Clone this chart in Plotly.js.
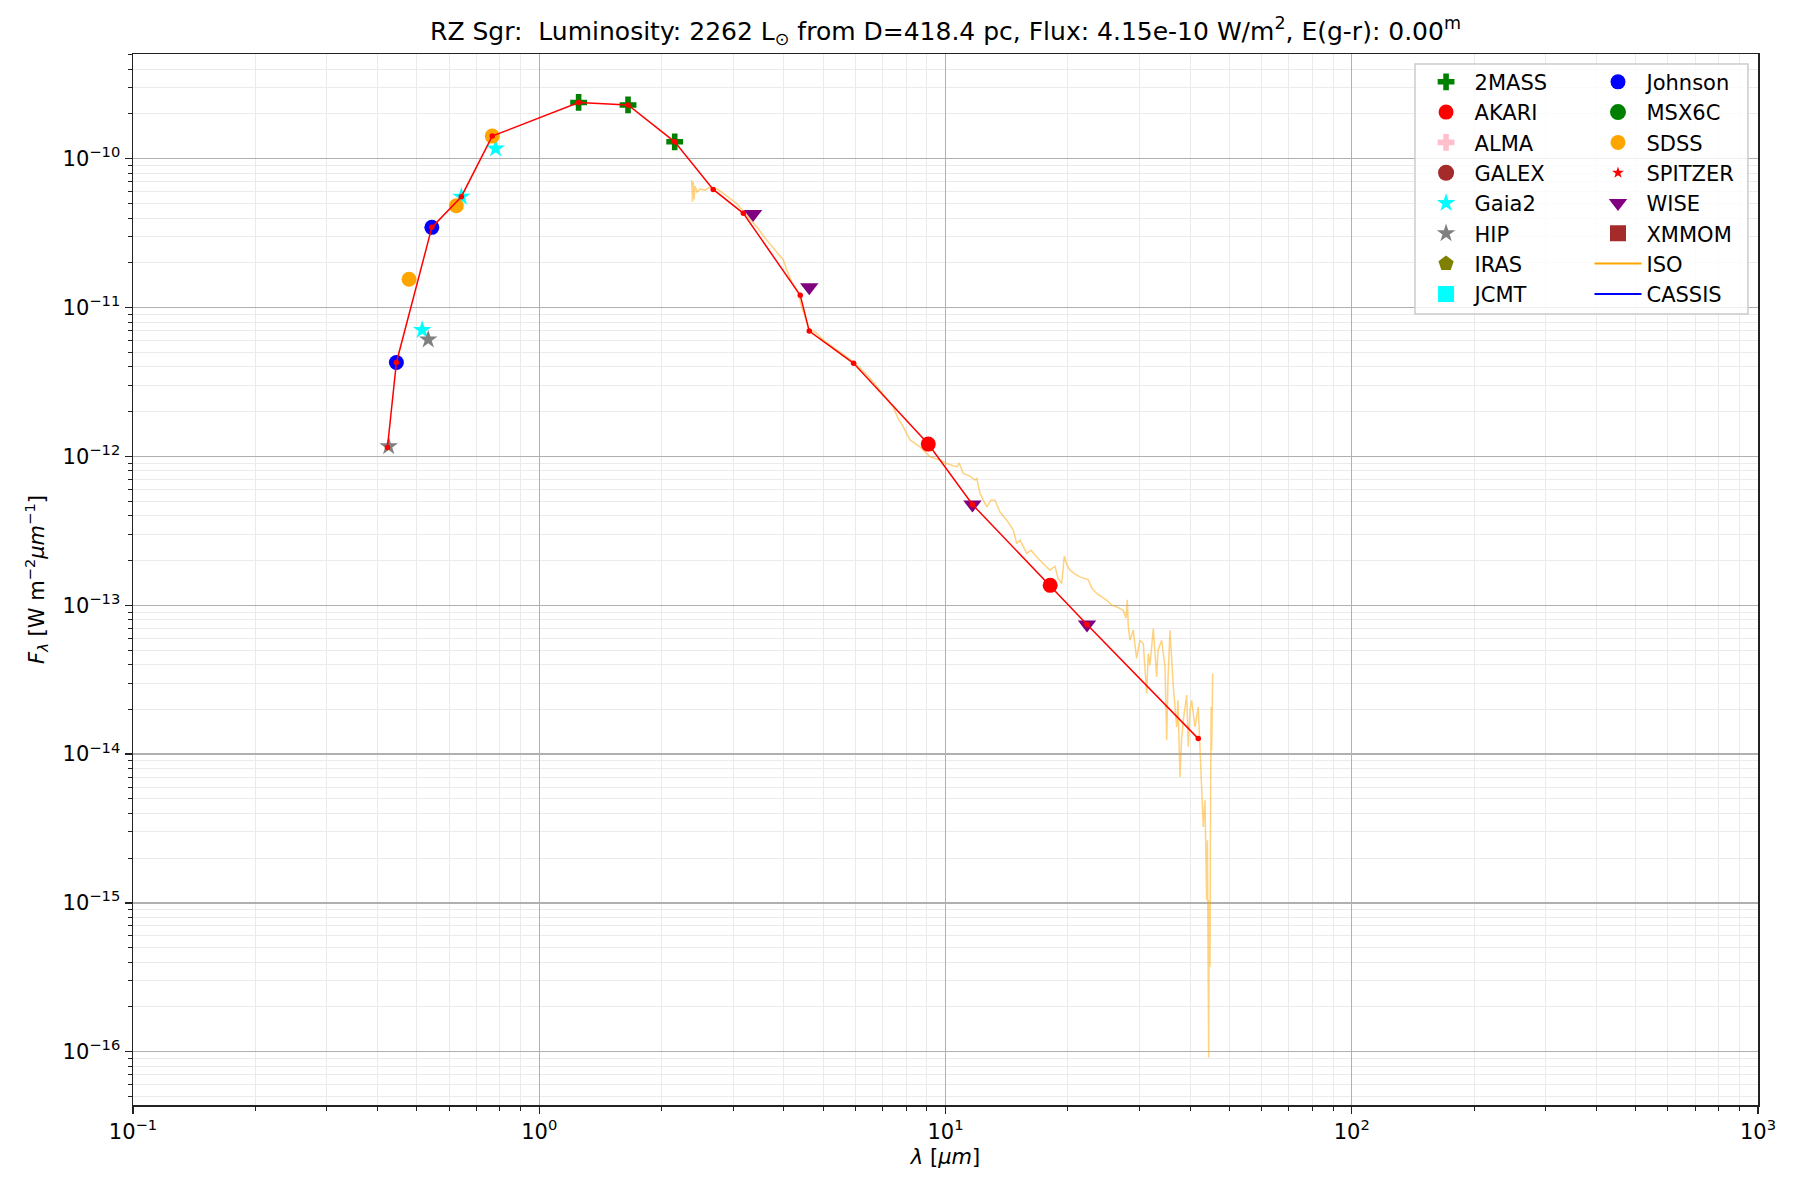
<!DOCTYPE html>
<html>
<head>
<meta charset="utf-8">
<script src="https://cdn.plot.ly/plotly-3.0.1.min.js"></script>
<style>
  html, body { margin: 0; padding: 0; background: #fff; }
  #sed { width: 1800px; height: 1200px; }
</style>
</head>
<body>
<div id="sed"></div>
<script>
// photometry (wavelength in micron, flux in W m^-2 um^-1)
const twomassWl = [1.25, 1.654, 2.155];
const twomassFlux = [2.39e-10, 2.30e-10, 1.30e-10];
const johnsonWl = [0.445, 0.544];
const johnsonFlux = [4.28e-12, 3.46e-11];
const sdssWl = [0.478, 0.625, 0.766];
const sdssFlux = [1.55e-11, 4.83e-11, 1.42e-10];
const gaiaWl = [0.515, 0.643, 0.781];
const gaiaFlux = [7.06e-12, 5.56e-11, 1.17e-10];
const hipWl = [0.426, 0.533];
const hipFlux = [1.17e-12, 6.1e-12];
const wiseWl = [3.36, 4.62, 11.65, 22.3];
const wiseFlux = [4.25e-11, 1.37e-11, 4.75e-13, 7.43e-14];
const akariWl = [9.07, 18.1];
const akariFlux = [1.21e-12, 1.36e-13];

// points joined by the red line
const sedWl = [0.423, 0.445, 0.544, 0.643, 0.766, 1.25, 1.654, 2.155, 2.68, 3.18,
  4.39, 4.62, 5.94, 9.07, 11.65, 18.1, 22.3, 41.9];
const sedFlux = [1.15e-12, 4.28e-12, 3.46e-11, 5.56e-11, 1.42e-10, 2.39e-10, 2.30e-10, 1.30e-10, 6.22e-11, 4.30e-11,
  1.21e-11, 6.95e-12, 4.22e-12, 1.21e-12, 4.75e-13, 1.36e-13, 7.43e-14, 1.27e-14];

// ISO spectrum, traced
const isoWl = [2.373, 2.384, 2.394, 2.404, 2.418, 2.446, 2.487, 2.559, 2.617, 2.682,
  2.754, 2.838, 2.948, 3.062, 3.241, 3.430, 3.630, 3.842, 3.988, 4.066,
  4.183, 4.343, 4.426, 4.511, 4.596, 4.820, 5.004, 5.499, 5.986, 6.520,
  7.098, 7.437, 7.639, 7.873, 8.177, 8.655, 9.158, 9.694, 10.07, 10.66,
  10.80, 11.06, 11.49, 11.82, 11.94, 12.16, 12.63, 12.94, 13.24, 13.62,
  14.15, 14.69, 14.97, 15.26, 15.85, 16.24, 16.77, 17.41, 18.08, 18.60,
  18.92, 19.32, 19.46, 19.61, 19.91, 20.25, 20.84, 21.43, 22.46, 22.94,
  23.56, 24.28, 24.94, 25.70, 26.39, 27.39, 27.81, 28.02, 28.18, 28.46,
  28.99, 29.27, 29.55, 30.11, 30.68, 31.27, 31.56, 31.87, 32.47, 33.10,
  33.35, 34.05, 34.70, 35.03, 35.29, 35.69, 36.37, 37.08, 37.35, 37.78,
  38.10, 38.49, 39.24, 39.59, 39.98, 40.36, 41.12, 41.90, 42.30, 42.71,
  43.10, 43.51, 43.94, 44.13, 44.34, 44.44, 44.59, 44.77, 44.95, 45.08,
  45.20, 45.34, 45.47];
const isoFlux = [7.19e-11, 5.14e-11, 6.97e-11, 5.36e-11, 6.56e-11, 5.97e-11, 6.25e-11, 6.16e-11, 6.40e-11, 6.32e-11,
  6.21e-11, 5.85e-11, 5.44e-11, 5.01e-11, 4.18e-11, 3.49e-11, 2.84e-11, 2.37e-11, 2.09e-11, 1.79e-11,
  1.49e-11, 1.25e-11, 1.01e-11, 8.67e-12, 7.24e-12, 6.71e-12, 6.05e-12, 5.02e-12, 4.24e-12, 3.36e-12,
  2.54e-12, 2.15e-12, 1.81e-12, 1.58e-12, 1.29e-12, 1.16e-12, 9.94e-13, 9.44e-13, 8.97e-13, 8.51e-13,
  9.02e-13, 7.69e-13, 7.38e-13, 6.94e-13, 7.11e-13, 5.64e-13, 4.58e-13, 5.08e-13, 5.08e-13, 4.23e-13,
  3.73e-13, 3.20e-13, 2.60e-13, 2.74e-13, 2.23e-13, 2.34e-13, 2.11e-13, 1.91e-13, 1.72e-13, 1.83e-13,
  1.52e-13, 1.40e-13, 1.72e-13, 2.14e-13, 1.86e-13, 1.72e-13, 1.62e-13, 1.55e-13, 1.48e-13, 1.30e-13,
  1.20e-13, 1.13e-13, 1.08e-13, 1.00e-13, 9.76e-14, 9.26e-14, 8.19e-14, 1.09e-13, 7.16e-14, 5.82e-14,
  6.81e-14, 5.40e-14, 4.39e-14, 5.82e-14, 5.53e-14, 2.55e-14, 4.74e-14, 3.95e-14, 6.98e-14, 3.30e-14,
  4.99e-14, 5.82e-14, 3.85e-14, 1.24e-14, 3.14e-14, 6.79e-14, 2.83e-14, 1.52e-14, 2.30e-14, 7.03e-15,
  1.24e-14, 1.69e-14, 2.49e-14, 1.12e-14, 1.97e-14, 2.30e-14, 1.52e-14, 2.07e-14, 1.01e-14, 6.68e-15,
  3.24e-15, 4.90e-15, 1.04e-15, 2.64e-15, 3.72e-16, 9.14e-17, 1.04e-15, 3.72e-16, 6.68e-15, 2.07e-14,
  1.06e-14, 2.30e-14, 3.48e-14];

const xTickVals = [0.1, 1, 10, 100, 1000];
const xTickText = ['10<sup>−1</sup>', '10<sup>0</sup>', '10<sup>1</sup>', '10<sup>2</sup>', '10<sup>3</sup>'];
const yTickVals = [1e-16, 1e-15, 1e-14, 1e-13, 1e-12, 1e-11, 1e-10];
const yTickText = ['10<sup>−16</sup>', '10<sup>−15</sup>', '10<sup>−14</sup>', '10<sup>−13</sup>',
  '10<sup>−12</sup>', '10<sup>−11</sup>', '10<sup>−10</sup>'];

const FONT = 'DejaVu Sans, sans-serif';

function pts(name, x, y, symbol, color, size, leg, rank) {
  return {
    type: 'scatter', mode: 'markers', name: name, x: x, y: y,
    marker: { symbol: symbol, color: color, size: size, line: { width: 0 } },
    legend: leg, legendgroup: name, legendrank: rank
  };
}
// legend entry for a catalogue with nothing plotted
function emptyEntry(name, symbol, color, size, leg, rank) {
  return pts(name, [null], [null], symbol, color, size, leg, rank);
}
function lineEntry(name, color, leg, rank) {
  return {
    type: 'scatter', mode: 'lines', name: name, x: [null], y: [null],
    line: { color: color, width: 2 }, legend: leg, legendgroup: name, legendrank: rank
  };
}

const traces = [
  {
    type: 'scatter', mode: 'lines', name: 'ISO spectrum', x: isoWl, y: isoFlux,
    line: { color: 'rgba(255,165,0,0.5)', width: 1.5 }, showlegend: false
  },
  pts('2MASS', twomassWl, twomassFlux, 'cross', 'green', 14, 'legend', 1),
  pts('AKARI', akariWl, akariFlux, 'circle', 'red', 15, 'legend', 2),
  emptyEntry('ALMA', 'cross', 'pink', 14, 'legend', 3),
  emptyEntry('GALEX', 'circle', 'brown', 16, 'legend', 4),
  pts('Gaia2', gaiaWl, gaiaFlux, 'star', 'cyan', 14, 'legend', 5),
  pts('HIP', hipWl, hipFlux, 'star', 'gray', 14, 'legend', 6),
  emptyEntry('IRAS', 'pentagon', 'olive', 16, 'legend', 7),
  emptyEntry('JCMT', 'square', 'cyan', 16, 'legend', 8),
  pts('Johnson', johnsonWl, johnsonFlux, 'circle', 'blue', 15, 'legend2', 1),
  emptyEntry('MSX6C', 'circle', 'green', 16, 'legend2', 2),
  pts('SDSS', sdssWl, sdssFlux, 'circle', 'orange', 15, 'legend2', 3),
  emptyEntry('SPITZER', 'star', 'red', 9, 'legend2', 4),
  pts('WISE', wiseWl, wiseFlux, 'triangle-down', 'purple', 16, 'legend2', 5),
  emptyEntry('XMMOM', 'square', 'brown', 16, 'legend2', 6),
  lineEntry('ISO', 'orange', 'legend2', 7),
  lineEntry('CASSIS', 'blue', 'legend2', 8),
  {
    type: 'scatter', mode: 'lines+markers', name: 'SED', x: sedWl, y: sedFlux,
    line: { color: 'red', width: 1.5 }, marker: { color: 'red', size: 5.5 },
    showlegend: false
  }
];

const axisCommon = {
  type: 'log',
  tickmode: 'array',
  ticks: 'outside', ticklen: 7, tickwidth: 1.3, tickcolor: '#222',
  showline: true, mirror: true, linecolor: '#222', linewidth: 1.5,
  showgrid: true, gridcolor: '#b0b0b0', gridwidth: 1.3,
  zeroline: false,
  tickfont: { family: FONT, size: 21, color: '#000' },
  minor: { dtick: 'D1', ticks: 'outside', ticklen: 4, tickwidth: 1, tickcolor: '#222',
    showgrid: true, gridcolor: '#ebebeb', gridwidth: 1 }
};

const legendCommon = {
  orientation: 'v',
  yanchor: 'top', y: 0.9927,
  xanchor: 'left',
  bgcolor: 'rgba(0,0,0,0)', borderwidth: 0,
  font: { family: FONT, size: 21, color: '#000' },
  itemwidth: 47,
  tracegroupgap: 0
};

const layout = {
  width: 1800, height: 1200,
  paper_bgcolor: '#fff', plot_bgcolor: '#fff',
  margin: { l: 133, r: 42, t: 54, b: 95 },
  font: { family: FONT, size: 21, color: '#000' },
  title: {
    text: 'RZ Sgr:\u00a0 Luminosity: 2262 L<sub>⊙</sub> from D=418.4 pc, Flux: 4.15e-10 W/m<sup>2</sup>, E(g-r): 0.00<sup>m</sup>',
    font: { family: FONT, size: 25 },
    x: 0.5, xref: 'paper', xanchor: 'center',
    y: 0.974, yref: 'container', yanchor: 'middle'
  },
  xaxis: Object.assign({}, axisCommon, {
    range: [-1, 3],
    tickvals: xTickVals, ticktext: xTickText,
    title: { text: '<i>λ</i> [<i>μm</i>]', font: { family: FONT, size: 21 }, standoff: 6 }
  }),
  yaxis: Object.assign({}, axisCommon, {
    range: [-16.358, -9.296],
    tickvals: yTickVals, ticktext: yTickText,
    title: { text: '<i>F<sub>λ</sub></i> [W m<sup>−2</sup><i>μm</i><sup>−1</sup>]', font: { family: FONT, size: 21 }, standoff: 12 }
  }),
  // legend frame, two columns inside it
  shapes: [{
    type: 'rect', xref: 'paper', yref: 'paper', layer: 'above',
    x0: 0.7889, x1: 0.9938, y0: 0.7526, y1: 0.9905,
    line: { color: '#cccccc', width: 1.5 }, fillcolor: 'rgba(255,255,255,0.8)'
  }],
  legend: Object.assign({}, legendCommon, { x: 0.7905 }),
  legend2: Object.assign({}, legendCommon, { x: 0.8963 }),
  showlegend: true
};

Plotly.newPlot('sed', traces, layout, { displayModeBar: false, staticPlot: true });
</script>
</body>
</html>
